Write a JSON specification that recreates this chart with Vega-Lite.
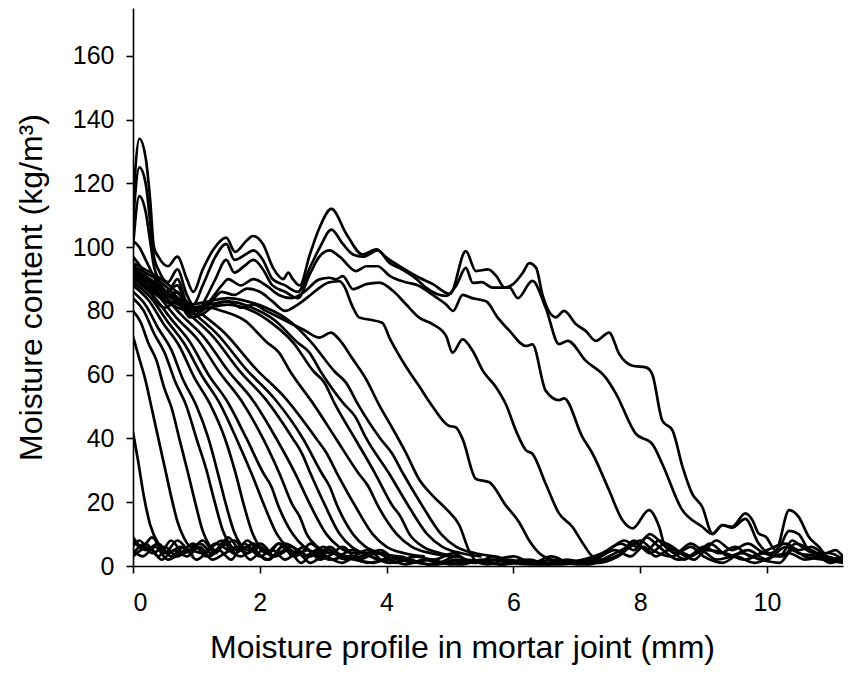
{
"$schema": "https://vega.github.io/schema/vega-lite/v6.json",
"width": 710, "height": 558,
"autosize": {"type": "none"},
"padding": {"left": 133, "top": 8, "right": 9, "bottom": 113},
"background": "white",
"config": {"view": {"stroke": null}, "axis": {"domainColor": "black", "tickColor": "black", "labelColor": "black", "titleColor": "black", "labelFont": "Liberation Sans", "titleFont": "Liberation Sans", "labelFontSize": 25, "titleFontSize": 32, "titleFontWeight": "normal", "domainWidth": 1.6, "tickWidth": 1.6, "tickSize": 7, "grid": false}},
"datasets": {
"curves": [
{"s":"a","x":0,"y":113},{"s":"a","x":0.1,"y":134},{"s":"a","x":0.2,"y":128},{"s":"a","x":0.27,"y":115},{"s":"a","x":0.33,"y":100},{"s":"a","x":0.4,"y":97},{"s":"a","x":0.55,"y":94},{"s":"a","x":0.7,"y":97},{"s":"a","x":0.85,"y":90},{"s":"a","x":0.95,"y":86},{"s":"a","x":1.1,"y":93},{"s":"a","x":1.26,"y":99},{"s":"a","x":1.47,"y":103},{"s":"a","x":1.61,"y":98.5},{"s":"a","x":1.79,"y":102},{"s":"a","x":1.89,"y":103.5},{"s":"a","x":2.05,"y":101},{"s":"a","x":2.21,"y":93.5},{"s":"a","x":2.37,"y":90},{"s":"a","x":2.45,"y":92},{"s":"a","x":2.52,"y":90},{"s":"a","x":2.63,"y":88},{"s":"a","x":2.79,"y":97.7},{"s":"a","x":2.94,"y":106},{"s":"a","x":3.13,"y":112},{"s":"a","x":3.37,"y":104},{"s":"a","x":3.62,"y":97.7},{"s":"a","x":3.84,"y":99.3},{"s":"a","x":4.0,"y":96.7},{"s":"a","x":4.25,"y":93.5},{"s":"a","x":4.52,"y":90.4},{"s":"a","x":4.73,"y":88.4},{"s":"a","x":5.0,"y":85.3},{"s":"a","x":5.25,"y":98.75},{"s":"a","x":5.41,"y":92.5},{"s":"a","x":5.6,"y":93},{"s":"a","x":5.73,"y":91},{"s":"a","x":5.86,"y":87.3},{"s":"a","x":5.99,"y":88.3},{"s":"a","x":6.15,"y":92},{"s":"a","x":6.25,"y":95},{"s":"a","x":6.36,"y":93.5},{"s":"a","x":6.46,"y":85},{"s":"a","x":6.67,"y":78},{"s":"a","x":6.8,"y":80},{"s":"a","x":6.99,"y":75.8},{"s":"a","x":7.14,"y":73.75},{"s":"a","x":7.3,"y":70.6},{"s":"a","x":7.51,"y":73.2},{"s":"a","x":7.67,"y":66.5},{"s":"a","x":7.88,"y":62.8},{"s":"a","x":8.09,"y":62.3},{"s":"a","x":8.19,"y":60.2},{"s":"a","x":8.35,"y":45.6},{"s":"a","x":8.51,"y":42.5},{"s":"a","x":8.67,"y":31},{"s":"a","x":8.82,"y":22.7},{"s":"a","x":8.98,"y":18.5},{"s":"a","x":9.14,"y":10.2},{"s":"a","x":9.3,"y":12.8},{"s":"a","x":9.45,"y":12.3},{"s":"a","x":9.66,"y":16.5},{"s":"a","x":9.77,"y":14.4},{"s":"a","x":9.87,"y":10.2},{"s":"a","x":9.98,"y":9.2},{"s":"a","x":10.14,"y":5},{"s":"a","x":10.35,"y":17.5},{"s":"a","x":10.5,"y":15.4},{"s":"a","x":10.66,"y":9.2},{"s":"a","x":10.82,"y":6},{"s":"a","x":10.92,"y":4},{"s":"a","x":11.08,"y":5},{"s":"a","x":11.2,"y":3},
{"s":"b","x":0,"y":108},{"s":"b","x":0.1,"y":125},{"s":"b","x":0.2,"y":120},{"s":"b","x":0.27,"y":108},{"s":"b","x":0.33,"y":97},{"s":"b","x":0.4,"y":93},{"s":"b","x":0.55,"y":89},{"s":"b","x":0.7,"y":93},{"s":"b","x":0.85,"y":85},{"s":"b","x":0.95,"y":82},{"s":"b","x":1.1,"y":88},{"s":"b","x":1.3,"y":97},{"s":"b","x":1.47,"y":101},{"s":"b","x":1.6,"y":96},{"s":"b","x":1.8,"y":98},{"s":"b","x":1.9,"y":99},{"s":"b","x":2.05,"y":96},{"s":"b","x":2.2,"y":90},{"s":"b","x":2.4,"y":88},{"s":"b","x":2.6,"y":86},{"s":"b","x":2.8,"y":94},{"s":"b","x":2.95,"y":100},{"s":"b","x":3.13,"y":105.5},{"s":"b","x":3.31,"y":101},{"s":"b","x":3.47,"y":97.7},{"s":"b","x":3.63,"y":97},{"s":"b","x":3.86,"y":99},{"s":"b","x":4.05,"y":95},{"s":"b","x":4.2,"y":93.5},{"s":"b","x":4.47,"y":90},{"s":"b","x":4.62,"y":87.3},{"s":"b","x":4.94,"y":84.7},{"s":"b","x":5.1,"y":88},{"s":"b","x":5.25,"y":93.5},{"s":"b","x":5.36,"y":88.8},{"s":"b","x":5.5,"y":89},{"s":"b","x":5.67,"y":87.3},{"s":"b","x":5.94,"y":87.3},{"s":"b","x":6.07,"y":84},{"s":"b","x":6.3,"y":89.4},{"s":"b","x":6.51,"y":81},{"s":"b","x":6.72,"y":69.6},{"s":"b","x":6.86,"y":70.6},{"s":"b","x":7.14,"y":64.4},{"s":"b","x":7.46,"y":59},{"s":"b","x":7.62,"y":54},{"s":"b","x":7.93,"y":41.5},{"s":"b","x":8.19,"y":38.3},{"s":"b","x":8.35,"y":32},{"s":"b","x":8.65,"y":18},{"s":"b","x":8.98,"y":12.3},{"s":"b","x":9.14,"y":10},{"s":"b","x":9.3,"y":12.8},{"s":"b","x":9.45,"y":12},{"s":"b","x":9.66,"y":14.8},{"s":"b","x":9.87,"y":7},{"s":"b","x":10.05,"y":4},{"s":"b","x":10.2,"y":6},{"s":"b","x":10.35,"y":11},{"s":"b","x":10.5,"y":10},{"s":"b","x":10.66,"y":5},{"s":"b","x":10.9,"y":3},{"s":"b","x":11.2,"y":2},
{"s":"c","x":0,"y":100},{"s":"c","x":0.1,"y":116},{"s":"c","x":0.2,"y":111},{"s":"c","x":0.27,"y":102},{"s":"c","x":0.33,"y":94},{"s":"c","x":0.4,"y":90},{"s":"c","x":0.55,"y":86},{"s":"c","x":0.7,"y":90},{"s":"c","x":0.85,"y":82},{"s":"c","x":1.0,"y":79},{"s":"c","x":1.15,"y":84},{"s":"c","x":1.3,"y":90},{"s":"c","x":1.47,"y":96},{"s":"c","x":1.6,"y":92},{"s":"c","x":1.75,"y":94},{"s":"c","x":1.9,"y":96},{"s":"c","x":2.05,"y":93},{"s":"c","x":2.2,"y":88},{"s":"c","x":2.4,"y":86},{"s":"c","x":2.6,"y":84},{"s":"c","x":2.8,"y":92},{"s":"c","x":2.94,"y":97},{"s":"c","x":3.1,"y":99},{"s":"c","x":3.26,"y":97},{"s":"c","x":3.52,"y":92.5},{"s":"c","x":3.68,"y":94},{"s":"c","x":3.86,"y":94},{"s":"c","x":4.05,"y":91},{"s":"c","x":4.3,"y":89},{"s":"c","x":4.5,"y":88},{"s":"c","x":4.73,"y":85},{"s":"c","x":4.94,"y":82},{"s":"c","x":5.05,"y":80},{"s":"c","x":5.2,"y":85},{"s":"c","x":5.35,"y":84},{"s":"c","x":5.57,"y":83},{"s":"c","x":5.75,"y":78},{"s":"c","x":5.94,"y":73.75},{"s":"c","x":6.2,"y":69},{"s":"c","x":6.3,"y":69.5},{"s":"c","x":6.51,"y":55},{"s":"c","x":6.72,"y":52},{"s":"c","x":6.8,"y":52.6},{"s":"c","x":7.09,"y":40.4},{"s":"c","x":7.25,"y":35.2},{"s":"c","x":7.51,"y":23.75},{"s":"c","x":7.72,"y":14.4},{"s":"c","x":7.88,"y":11.8},{"s":"c","x":8.14,"y":17.5},{"s":"c","x":8.3,"y":12.3},{"s":"c","x":8.4,"y":6},{"s":"c","x":8.56,"y":5},{"s":"c","x":8.8,"y":3},
{"s":"d","x":0,"y":102},{"s":"d","x":0.1,"y":100},{"s":"d","x":0.2,"y":96},{"s":"d","x":0.35,"y":90},{"s":"d","x":0.5,"y":86},{"s":"d","x":0.7,"y":88},{"s":"d","x":0.85,"y":81},{"s":"d","x":1.0,"y":80},{"s":"d","x":1.2,"y":83},{"s":"d","x":1.4,"y":88},{"s":"d","x":1.5,"y":90},{"s":"d","x":1.7,"y":88},{"s":"d","x":1.9,"y":90},{"s":"d","x":2.1,"y":88},{"s":"d","x":2.3,"y":85},{"s":"d","x":2.5,"y":84},{"s":"d","x":2.7,"y":86},{"s":"d","x":2.94,"y":89.9},{"s":"d","x":3.1,"y":90.4},{"s":"d","x":3.2,"y":89.9},{"s":"d","x":3.31,"y":90.9},{"s":"d","x":3.47,"y":86.8},{"s":"d","x":3.68,"y":88.4},{"s":"d","x":3.89,"y":88.9},{"s":"d","x":4.1,"y":86.3},{"s":"d","x":4.31,"y":82},{"s":"d","x":4.52,"y":77.8},{"s":"d","x":4.73,"y":75.8},{"s":"d","x":4.94,"y":72.1},{"s":"d","x":5.04,"y":66.9},{"s":"d","x":5.2,"y":71.1},{"s":"d","x":5.36,"y":67.4},{"s":"d","x":5.52,"y":61.2},{"s":"d","x":5.73,"y":56},{"s":"d","x":5.88,"y":50.8},{"s":"d","x":6.05,"y":42},{"s":"d","x":6.2,"y":36.25},{"s":"d","x":6.3,"y":35.2},{"s":"d","x":6.51,"y":25.8},{"s":"d","x":6.72,"y":16.5},{"s":"d","x":6.93,"y":12.3},{"s":"d","x":7.1,"y":7},{"s":"d","x":7.25,"y":3},{"s":"d","x":7.4,"y":2},
{"s":"e","x":0,"y":97},{"s":"e","x":0.15,"y":93},{"s":"e","x":0.3,"y":88},{"s":"e","x":0.5,"y":84},{"s":"e","x":0.7,"y":86},{"s":"e","x":0.85,"y":80},{"s":"e","x":1.0,"y":79},{"s":"e","x":1.2,"y":82},{"s":"e","x":1.4,"y":86},{"s":"e","x":1.6,"y":85},{"s":"e","x":1.8,"y":87},{"s":"e","x":2.0,"y":86},{"s":"e","x":2.2,"y":83},{"s":"e","x":2.4,"y":80},{"s":"e","x":2.6,"y":82},{"s":"e","x":2.8,"y":85},{"s":"e","x":2.94,"y":87.2},{"s":"e","x":3.1,"y":89},{"s":"e","x":3.26,"y":89.3},{"s":"e","x":3.33,"y":87.8},{"s":"e","x":3.46,"y":81.5},{"s":"e","x":3.57,"y":77.9},{"s":"e","x":3.72,"y":77.3},{"s":"e","x":3.93,"y":76.3},{"s":"e","x":4.06,"y":71},{"s":"e","x":4.3,"y":62.7},{"s":"e","x":4.51,"y":56.5},{"s":"e","x":4.72,"y":50.2},{"s":"e","x":4.98,"y":44},{"s":"e","x":5.09,"y":43.5},{"s":"e","x":5.2,"y":39.8},{"s":"e","x":5.41,"y":27.3},{"s":"e","x":5.62,"y":26.25},{"s":"e","x":5.88,"y":19},{"s":"e","x":6.09,"y":13.75},{"s":"e","x":6.25,"y":8},{"s":"e","x":6.41,"y":4},{"s":"e","x":6.6,"y":2},
{"s":"f","x":0,"y":95},{"s":"f","x":0.15,"y":90},{"s":"f","x":0.3,"y":85},{"s":"f","x":0.5,"y":81},{"s":"f","x":0.7,"y":83},{"s":"f","x":0.9,"y":78},{"s":"f","x":1.1,"y":79},{"s":"f","x":1.3,"y":82},{"s":"f","x":1.5,"y":83},{"s":"f","x":1.7,"y":81},{"s":"f","x":1.9,"y":82},{"s":"f","x":2.1,"y":80},{"s":"f","x":2.3,"y":78},{"s":"f","x":2.5,"y":76},{"s":"f","x":2.7,"y":74},{"s":"f","x":2.94,"y":71.6},{"s":"f","x":3.12,"y":73.2},{"s":"f","x":3.25,"y":71.1},{"s":"f","x":3.47,"y":64.8},{"s":"f","x":3.68,"y":58.5},{"s":"f","x":3.89,"y":50.2},{"s":"f","x":4.07,"y":44},{"s":"f","x":4.3,"y":35.7},{"s":"f","x":4.51,"y":27.3},{"s":"f","x":4.73,"y":22},{"s":"f","x":4.94,"y":17.9},{"s":"f","x":5.15,"y":12.7},{"s":"f","x":5.31,"y":4.4},{"s":"f","x":5.42,"y":1.5},{"s":"f","x":5.6,"y":1},
{"s":"E1","x":0,"y":42},{"s":"E1","x":0.08,"y":33},{"s":"E1","x":0.17,"y":22},{"s":"E1","x":0.27,"y":13},{"s":"E1","x":0.4,"y":7},{"s":"E1","x":0.55,"y":4},{"s":"E1","x":0.75,"y":6},{"s":"E1","x":0.95,"y":3},
{"s":"E2","x":0,"y":72},{"s":"E2","x":0.1,"y":65},{"s":"E2","x":0.2,"y":58},{"s":"E2","x":0.3,"y":49},{"s":"E2","x":0.4,"y":40},{"s":"E2","x":0.5,"y":31},{"s":"E2","x":0.6,"y":22},{"s":"E2","x":0.7,"y":14},{"s":"E2","x":0.8,"y":9},{"s":"E2","x":0.92,"y":6},{"s":"E2","x":1.05,"y":7},{"s":"E2","x":1.25,"y":3},
{"s":"E3","x":0,"y":80},{"s":"E3","x":0.12,"y":76.5},{"s":"E3","x":0.24,"y":70},{"s":"E3","x":0.37,"y":64.5},{"s":"E3","x":0.49,"y":56},{"s":"E3","x":0.61,"y":49.5},{"s":"E3","x":0.73,"y":40},{"s":"E3","x":0.87,"y":29},{"s":"E3","x":0.98,"y":20},{"s":"E3","x":1.1,"y":11},{"s":"E3","x":1.19,"y":7},{"s":"E3","x":1.3,"y":5},{"s":"E3","x":1.45,"y":8},{"s":"E3","x":1.6,"y":4},
{"s":"E4","x":0,"y":84},{"s":"E4","x":0.17,"y":80},{"s":"E4","x":0.33,"y":73},{"s":"E4","x":0.5,"y":66.8},{"s":"E4","x":0.67,"y":57.6},{"s":"E4","x":0.84,"y":50.3},{"s":"E4","x":1.0,"y":40},{"s":"E4","x":1.16,"y":30},{"s":"E4","x":1.29,"y":20},{"s":"E4","x":1.42,"y":11},{"s":"E4","x":1.52,"y":7},{"s":"E4","x":1.65,"y":5},{"s":"E4","x":1.8,"y":8},{"s":"E4","x":2.0,"y":3},
{"s":"E5","x":0,"y":86},{"s":"E5","x":0.2,"y":81.8},{"s":"E5","x":0.4,"y":74.5},{"s":"E5","x":0.6,"y":68},{"s":"E5","x":0.79,"y":58.4},{"s":"E5","x":0.99,"y":50.7},{"s":"E5","x":1.19,"y":40},{"s":"E5","x":1.34,"y":29},{"s":"E5","x":1.47,"y":19},{"s":"E5","x":1.59,"y":11},{"s":"E5","x":1.69,"y":7},{"s":"E5","x":1.82,"y":5},{"s":"E5","x":2.0,"y":7},{"s":"E5","x":2.2,"y":3},
{"s":"E6","x":0,"y":88},{"s":"E6","x":0.24,"y":83.5},{"s":"E6","x":0.48,"y":76},{"s":"E6","x":0.73,"y":69},{"s":"E6","x":0.97,"y":59},{"s":"E6","x":1.21,"y":51},{"s":"E6","x":1.45,"y":40},{"s":"E6","x":1.62,"y":29},{"s":"E6","x":1.75,"y":19},{"s":"E6","x":1.89,"y":10},{"s":"E6","x":2.0,"y":6},{"s":"E6","x":2.14,"y":4},{"s":"E6","x":2.3,"y":7},{"s":"E6","x":2.5,"y":3},
{"s":"E7","x":0,"y":89},{"s":"E7","x":0.27,"y":84.4},{"s":"E7","x":0.54,"y":76.8},{"s":"E7","x":0.81,"y":69.7},{"s":"E7","x":1.09,"y":59.6},{"s":"E7","x":1.36,"y":51.3},{"s":"E7","x":1.63,"y":40},{"s":"E7","x":1.87,"y":29},{"s":"E7","x":2.07,"y":19},{"s":"E7","x":2.27,"y":10},{"s":"E7","x":2.43,"y":6},{"s":"E7","x":2.63,"y":4},{"s":"E7","x":2.8,"y":7},{"s":"E7","x":3.0,"y":3},
{"s":"E8","x":0,"y":90},{"s":"E8","x":0.3,"y":85.2},{"s":"E8","x":0.6,"y":77.5},{"s":"E8","x":0.9,"y":70.2},{"s":"E8","x":1.19,"y":60},{"s":"E8","x":1.49,"y":51.5},{"s":"E8","x":1.79,"y":40},{"s":"E8","x":2.06,"y":29},{"s":"E8","x":2.18,"y":25},{"s":"E8","x":2.29,"y":19},{"s":"E8","x":2.52,"y":10},{"s":"E8","x":2.7,"y":6},{"s":"E8","x":2.93,"y":4},{"s":"E8","x":3.1,"y":6},{"s":"E8","x":3.3,"y":2},
{"s":"E9","x":0,"y":91},{"s":"E9","x":0.34,"y":86},{"s":"E9","x":0.68,"y":78},{"s":"E9","x":1.03,"y":70.8},{"s":"E9","x":1.37,"y":60.6},{"s":"E9","x":1.71,"y":51.8},{"s":"E9","x":2.05,"y":40},{"s":"E9","x":2.31,"y":29},{"s":"E9","x":2.52,"y":19},{"s":"E9","x":2.63,"y":15.5},{"s":"E9","x":2.74,"y":10},{"s":"E9","x":2.91,"y":6},{"s":"E9","x":3.13,"y":4},{"s":"E9","x":3.3,"y":6},{"s":"E9","x":3.5,"y":2},
{"s":"E10","x":0,"y":92},{"s":"E10","x":0.38,"y":87},{"s":"E10","x":0.75,"y":79},{"s":"E10","x":1.13,"y":71.5},{"s":"E10","x":1.51,"y":61},{"s":"E10","x":1.89,"y":52},{"s":"E10","x":2.26,"y":40},{"s":"E10","x":2.56,"y":29},{"s":"E10","x":2.8,"y":19},{"s":"E10","x":3.05,"y":10},{"s":"E10","x":3.25,"y":6},{"s":"E10","x":3.5,"y":4},{"s":"E10","x":3.7,"y":5},{"s":"E10","x":3.9,"y":2},
{"s":"E11","x":0,"y":93},{"s":"E11","x":0.42,"y":87.9},{"s":"E11","x":0.84,"y":79.8},{"s":"E11","x":1.26,"y":72},{"s":"E11","x":1.68,"y":61.2},{"s":"E11","x":2.1,"y":52.1},{"s":"E11","x":2.52,"y":40},{"s":"E11","x":2.66,"y":35.5},{"s":"E11","x":2.8,"y":29},{"s":"E11","x":3.03,"y":19},{"s":"E11","x":3.26,"y":10},{"s":"E11","x":3.45,"y":6},{"s":"E11","x":3.68,"y":4},{"s":"E11","x":3.9,"y":5},{"s":"E11","x":4.1,"y":2},
{"s":"E12","x":0,"y":94},{"s":"E12","x":0.45,"y":88.8},{"s":"E12","x":0.89,"y":80.5},{"s":"E12","x":1.34,"y":72.5},{"s":"E12","x":1.79,"y":61.6},{"s":"E12","x":2.24,"y":52.3},{"s":"E12","x":2.68,"y":40},{"s":"E12","x":2.98,"y":29},{"s":"E12","x":3.1,"y":25},{"s":"E12","x":3.22,"y":19},{"s":"E12","x":3.47,"y":10},{"s":"E12","x":3.67,"y":6},{"s":"E12","x":3.92,"y":4},{"s":"E12","x":4.2,"y":3},
{"s":"E13","x":0,"y":95},{"s":"E13","x":0.48,"y":89.5},{"s":"E13","x":0.96,"y":81},{"s":"E13","x":1.45,"y":73},{"s":"E13","x":1.93,"y":62},{"s":"E13","x":2.41,"y":52.5},{"s":"E13","x":2.89,"y":40},{"s":"E13","x":3.05,"y":35.5},{"s":"E13","x":3.22,"y":29},{"s":"E13","x":3.5,"y":19},{"s":"E13","x":3.78,"y":10},{"s":"E13","x":4.0,"y":6},{"s":"E13","x":4.28,"y":4},{"s":"E13","x":4.6,"y":3},
{"s":"E14","x":0,"y":92},{"s":"E14","x":0.3,"y":87},{"s":"E14","x":0.6,"y":83},{"s":"E14","x":0.9,"y":81},{"s":"E14","x":1.2,"y":81},{"s":"E14","x":1.4,"y":80},{"s":"E14","x":1.76,"y":77},{"s":"E14","x":2.12,"y":70},{"s":"E14","x":2.3,"y":67},{"s":"E14","x":2.48,"y":61},{"s":"E14","x":2.84,"y":51},{"s":"E14","x":3.2,"y":40},{"s":"E14","x":3.56,"y":29},{"s":"E14","x":3.71,"y":25},{"s":"E14","x":3.86,"y":19},{"s":"E14","x":4.16,"y":10},{"s":"E14","x":4.4,"y":6},{"s":"E14","x":4.7,"y":4},{"s":"E14","x":5.0,"y":3},
{"s":"E15","x":0,"y":91},{"s":"E15","x":0.3,"y":86},{"s":"E15","x":0.6,"y":82},{"s":"E15","x":0.9,"y":80},{"s":"E15","x":1.2,"y":81},{"s":"E15","x":1.5,"y":82},{"s":"E15","x":1.88,"y":80},{"s":"E15","x":2.2,"y":76},{"s":"E15","x":2.53,"y":70},{"s":"E15","x":2.85,"y":61},{"s":"E15","x":3.02,"y":57.5},{"s":"E15","x":3.18,"y":51},{"s":"E15","x":3.5,"y":40},{"s":"E15","x":3.82,"y":29},{"s":"E15","x":4.09,"y":19},{"s":"E15","x":4.22,"y":15.5},{"s":"E15","x":4.36,"y":10},{"s":"E15","x":4.58,"y":6},{"s":"E15","x":4.85,"y":4},{"s":"E15","x":5.1,"y":3},
{"s":"E16","x":0,"y":93},{"s":"E16","x":0.3,"y":88},{"s":"E16","x":0.6,"y":84},{"s":"E16","x":0.9,"y":81},{"s":"E16","x":1.2,"y":82},{"s":"E16","x":1.5,"y":83},{"s":"E16","x":1.88,"y":81},{"s":"E16","x":2.24,"y":77},{"s":"E16","x":2.6,"y":70},{"s":"E16","x":2.78,"y":67},{"s":"E16","x":2.96,"y":61},{"s":"E16","x":3.32,"y":51},{"s":"E16","x":3.5,"y":47},{"s":"E16","x":3.68,"y":40},{"s":"E16","x":4.04,"y":29},{"s":"E16","x":4.34,"y":19},{"s":"E16","x":4.64,"y":10},{"s":"E16","x":4.88,"y":6},{"s":"E16","x":5.18,"y":4},{"s":"E16","x":5.5,"y":3},
{"s":"E17","x":0,"y":94},{"s":"E17","x":0.3,"y":89},{"s":"E17","x":0.6,"y":85},{"s":"E17","x":0.9,"y":82},{"s":"E17","x":1.2,"y":83},{"s":"E17","x":1.5,"y":84},{"s":"E17","x":1.8,"y":83},{"s":"E17","x":2.1,"y":81},{"s":"E17","x":2.46,"y":77},{"s":"E17","x":2.82,"y":70},{"s":"E17","x":3.18,"y":61},{"s":"E17","x":3.36,"y":57.5},{"s":"E17","x":3.54,"y":51},{"s":"E17","x":3.9,"y":40},{"s":"E17","x":4.08,"y":35.5},{"s":"E17","x":4.26,"y":29},{"s":"E17","x":4.56,"y":19},{"s":"E17","x":4.86,"y":10},{"s":"E17","x":5.1,"y":6},{"s":"E17","x":5.4,"y":4},{"s":"E17","x":5.7,"y":3},
{"s":"N1","x":0,"y":8},{"s":"N1","x":0.2,"y":5},{"s":"N1","x":0.4,"y":7},{"s":"N1","x":0.6,"y":3},{"s":"N1","x":0.8,"y":6},{"s":"N1","x":1.0,"y":2},{"s":"N1","x":1.2,"y":5},{"s":"N1","x":1.4,"y":8},{"s":"N1","x":1.6,"y":4},{"s":"N1","x":1.8,"y":6},{"s":"N1","x":2.0,"y":3},{"s":"N1","x":2.2,"y":5},{"s":"N1","x":2.4,"y":2},{"s":"N1","x":2.6,"y":4},{"s":"N1","x":2.8,"y":1},{"s":"N1","x":3.0,"y":3},{"s":"N1","x":3.3,"y":1},{"s":"N1","x":3.6,"y":4},{"s":"N1","x":3.9,"y":2},{"s":"N1","x":4.2,"y":3},{"s":"N1","x":4.5,"y":1},{"s":"N1","x":4.8,"y":0.5},{"s":"N1","x":5.1,"y":2},{"s":"N1","x":5.4,"y":1},{"s":"N1","x":5.7,"y":3},{"s":"N1","x":6.0,"y":1},{"s":"N1","x":6.3,"y":0.5},{"s":"N1","x":6.6,"y":2},{"s":"N1","x":6.9,"y":1},{"s":"N1","x":7.2,"y":0.5},{"s":"N1","x":7.5,"y":3},{"s":"N1","x":7.8,"y":6},{"s":"N1","x":8.0,"y":8},{"s":"N1","x":8.2,"y":5},{"s":"N1","x":8.5,"y":3},{"s":"N1","x":8.8,"y":6},{"s":"N1","x":9.0,"y":3},{"s":"N1","x":9.3,"y":1},{"s":"N1","x":9.6,"y":4},{"s":"N1","x":9.9,"y":2},{"s":"N1","x":10.2,"y":1},{"s":"N1","x":10.4,"y":5},{"s":"N1","x":10.6,"y":3},{"s":"N1","x":10.9,"y":2},{"s":"N1","x":11.2,"y":1},
{"s":"N2","x":0,"y":5},{"s":"N2","x":0.15,"y":3},{"s":"N2","x":0.35,"y":6},{"s":"N2","x":0.55,"y":2},{"s":"N2","x":0.75,"y":4},{"s":"N2","x":0.95,"y":7},{"s":"N2","x":1.15,"y":3},{"s":"N2","x":1.35,"y":5},{"s":"N2","x":1.55,"y":2},{"s":"N2","x":1.75,"y":7},{"s":"N2","x":1.95,"y":4},{"s":"N2","x":2.15,"y":2},{"s":"N2","x":2.35,"y":6},{"s":"N2","x":2.55,"y":3},{"s":"N2","x":2.75,"y":5},{"s":"N2","x":2.95,"y":2},{"s":"N2","x":3.2,"y":4},{"s":"N2","x":3.5,"y":2},{"s":"N2","x":3.8,"y":1},{"s":"N2","x":4.1,"y":3},{"s":"N2","x":4.4,"y":1},{"s":"N2","x":4.7,"y":2},{"s":"N2","x":5.0,"y":0.5},{"s":"N2","x":5.3,"y":1.5},{"s":"N2","x":5.6,"y":0.5},{"s":"N2","x":5.9,"y":2},{"s":"N2","x":6.2,"y":1},{"s":"N2","x":6.5,"y":0.5},{"s":"N2","x":6.8,"y":1},{"s":"N2","x":7.1,"y":2},{"s":"N2","x":7.4,"y":4},{"s":"N2","x":7.7,"y":7},{"s":"N2","x":7.9,"y":5},{"s":"N2","x":8.1,"y":9},{"s":"N2","x":8.3,"y":6},{"s":"N2","x":8.6,"y":2},{"s":"N2","x":8.9,"y":4},{"s":"N2","x":9.1,"y":7},{"s":"N2","x":9.4,"y":3},{"s":"N2","x":9.7,"y":5},{"s":"N2","x":10.0,"y":2},{"s":"N2","x":10.3,"y":6},{"s":"N2","x":10.5,"y":4},{"s":"N2","x":10.8,"y":3},{"s":"N2","x":11.0,"y":1},{"s":"N2","x":11.2,"y":2},
{"s":"N3","x":0,"y":3},{"s":"N3","x":0.25,"y":6},{"s":"N3","x":0.45,"y":2},{"s":"N3","x":0.65,"y":5},{"s":"N3","x":0.85,"y":3},{"s":"N3","x":1.05,"y":6},{"s":"N3","x":1.25,"y":2},{"s":"N3","x":1.45,"y":4},{"s":"N3","x":1.65,"y":6},{"s":"N3","x":1.85,"y":2},{"s":"N3","x":2.05,"y":5},{"s":"N3","x":2.25,"y":3},{"s":"N3","x":2.45,"y":5},{"s":"N3","x":2.65,"y":1},{"s":"N3","x":2.85,"y":4},{"s":"N3","x":3.1,"y":2},{"s":"N3","x":3.4,"y":3},{"s":"N3","x":3.7,"y":1},{"s":"N3","x":4.0,"y":2},{"s":"N3","x":4.3,"y":0.5},{"s":"N3","x":4.6,"y":2},{"s":"N3","x":4.9,"y":1},{"s":"N3","x":5.2,"y":0.5},{"s":"N3","x":5.5,"y":2},{"s":"N3","x":5.8,"y":0.5},{"s":"N3","x":6.1,"y":1},{"s":"N3","x":6.4,"y":0.5},{"s":"N3","x":6.7,"y":1.5},{"s":"N3","x":7.0,"y":0.5},{"s":"N3","x":7.3,"y":2},{"s":"N3","x":7.6,"y":5},{"s":"N3","x":7.85,"y":3},{"s":"N3","x":8.05,"y":6},{"s":"N3","x":8.25,"y":3},{"s":"N3","x":8.45,"y":5},{"s":"N3","x":8.7,"y":2},{"s":"N3","x":8.95,"y":5},{"s":"N3","x":9.2,"y":2},{"s":"N3","x":9.5,"y":3},{"s":"N3","x":9.8,"y":1},{"s":"N3","x":10.1,"y":3},{"s":"N3","x":10.35,"y":4},{"s":"N3","x":10.6,"y":2},{"s":"N3","x":10.9,"y":3},{"s":"N3","x":11.2,"y":1},
{"s":"N4","x":0,"y":6},{"s":"N4","x":0.1,"y":8},{"s":"N4","x":0.3,"y":4},{"s":"N4","x":0.5,"y":6},{"s":"N4","x":0.7,"y":3},{"s":"N4","x":0.9,"y":5},{"s":"N4","x":1.1,"y":4},{"s":"N4","x":1.3,"y":7},{"s":"N4","x":1.5,"y":5},{"s":"N4","x":1.7,"y":3},{"s":"N4","x":1.9,"y":5},{"s":"N4","x":2.1,"y":2},{"s":"N4","x":2.3,"y":4},{"s":"N4","x":2.5,"y":6},{"s":"N4","x":2.7,"y":3},{"s":"N4","x":2.9,"y":5},{"s":"N4","x":3.15,"y":2},{"s":"N4","x":3.45,"y":5},{"s":"N4","x":3.75,"y":3},{"s":"N4","x":4.05,"y":1},{"s":"N4","x":4.35,"y":2},{"s":"N4","x":4.65,"y":0.5},{"s":"N4","x":4.95,"y":1},{"s":"N4","x":5.25,"y":2},{"s":"N4","x":5.55,"y":1},{"s":"N4","x":5.85,"y":0.5},{"s":"N4","x":6.15,"y":2},{"s":"N4","x":6.45,"y":1},{"s":"N4","x":6.75,"y":0.5},{"s":"N4","x":7.05,"y":1},{"s":"N4","x":7.35,"y":1},{"s":"N4","x":7.65,"y":3},{"s":"N4","x":7.95,"y":7},{"s":"N4","x":8.15,"y":4},{"s":"N4","x":8.4,"y":7},{"s":"N4","x":8.65,"y":4},{"s":"N4","x":8.85,"y":2},{"s":"N4","x":9.05,"y":5},{"s":"N4","x":9.35,"y":4},{"s":"N4","x":9.65,"y":2},{"s":"N4","x":9.95,"y":4},{"s":"N4","x":10.25,"y":3},{"s":"N4","x":10.45,"y":7},{"s":"N4","x":10.7,"y":5},{"s":"N4","x":11.0,"y":2},{"s":"N4","x":11.2,"y":3},
{"s":"N5","x":0,"y":9},{"s":"N5","x":0.15,"y":6},{"s":"N5","x":0.3,"y":9},{"s":"N5","x":0.5,"y":4},{"s":"N5","x":0.7,"y":8},{"s":"N5","x":0.9,"y":5},{"s":"N5","x":1.1,"y":8},{"s":"N5","x":1.3,"y":4},{"s":"N5","x":1.5,"y":9},{"s":"N5","x":1.7,"y":5},{"s":"N5","x":1.9,"y":7},{"s":"N5","x":2.1,"y":4},{"s":"N5","x":2.3,"y":7},{"s":"N5","x":2.5,"y":4},{"s":"N5","x":2.7,"y":6},{"s":"N5","x":2.9,"y":3},{"s":"N5","x":3.1,"y":5},{"s":"N5","x":3.35,"y":2},{"s":"N5","x":3.6,"y":3},{"s":"N5","x":3.9,"y":4},{"s":"N5","x":4.2,"y":2},{"s":"N5","x":4.5,"y":3},{"s":"N5","x":4.8,"y":1},{"s":"N5","x":5.1,"y":3},{"s":"N5","x":5.4,"y":1},{"s":"N5","x":5.7,"y":2},{"s":"N5","x":6.0,"y":3},{"s":"N5","x":6.3,"y":1},{"s":"N5","x":6.6,"y":3},{"s":"N5","x":6.9,"y":1},{"s":"N5","x":7.2,"y":2},{"s":"N5","x":7.5,"y":5},{"s":"N5","x":7.75,"y":8},{"s":"N5","x":7.95,"y":6},{"s":"N5","x":8.15,"y":10},{"s":"N5","x":8.35,"y":7},{"s":"N5","x":8.55,"y":4},{"s":"N5","x":8.8,"y":7},{"s":"N5","x":9.0,"y":5},{"s":"N5","x":9.2,"y":8},{"s":"N5","x":9.45,"y":5},{"s":"N5","x":9.7,"y":7},{"s":"N5","x":9.95,"y":4},{"s":"N5","x":10.2,"y":3},{"s":"N5","x":10.4,"y":8},{"s":"N5","x":10.55,"y":6},{"s":"N5","x":10.75,"y":4},{"s":"N5","x":11.0,"y":4},{"s":"N5","x":11.2,"y":2},
{"s":"N6","x":0,"y":4},{"s":"N6","x":0.2,"y":7},{"s":"N6","x":0.4,"y":3},{"s":"N6","x":0.6,"y":8},{"s":"N6","x":0.8,"y":4},{"s":"N6","x":1.0,"y":6},{"s":"N6","x":1.2,"y":3},{"s":"N6","x":1.4,"y":6},{"s":"N6","x":1.6,"y":8},{"s":"N6","x":1.8,"y":4},{"s":"N6","x":2.0,"y":6},{"s":"N6","x":2.2,"y":3},{"s":"N6","x":2.4,"y":7},{"s":"N6","x":2.6,"y":5},{"s":"N6","x":2.8,"y":3},{"s":"N6","x":3.0,"y":6},{"s":"N6","x":3.25,"y":3},{"s":"N6","x":3.55,"y":2},{"s":"N6","x":3.85,"y":4},{"s":"N6","x":4.15,"y":1},{"s":"N6","x":4.45,"y":3},{"s":"N6","x":4.75,"y":2},{"s":"N6","x":5.05,"y":4},{"s":"N6","x":5.35,"y":1},{"s":"N6","x":5.65,"y":2},{"s":"N6","x":5.95,"y":1},{"s":"N6","x":6.25,"y":2},{"s":"N6","x":6.55,"y":0.5},{"s":"N6","x":6.85,"y":2},{"s":"N6","x":7.15,"y":1},{"s":"N6","x":7.45,"y":2},{"s":"N6","x":7.7,"y":4},{"s":"N6","x":7.9,"y":8},{"s":"N6","x":8.1,"y":5},{"s":"N6","x":8.3,"y":8},{"s":"N6","x":8.55,"y":5},{"s":"N6","x":8.75,"y":3},{"s":"N6","x":9.0,"y":6},{"s":"N6","x":9.25,"y":4},{"s":"N6","x":9.5,"y":6},{"s":"N6","x":9.75,"y":3},{"s":"N6","x":10.0,"y":5},{"s":"N6","x":10.3,"y":7},{"s":"N6","x":10.5,"y":5},{"s":"N6","x":10.7,"y":6},{"s":"N6","x":10.95,"y":3},{"s":"N6","x":11.2,"y":2}
]
},
"layer": [
{"data": {"name": "curves"},
 "mark": {"type": "line", "color": "black", "strokeWidth": 2.7, "interpolate": "monotone", "clip": true},
 "encoding": {
  "x": {"field": "x", "type": "quantitative", "scale": {"domain": [0, 11.2], "nice": false, "zero": false},
        "axis": {"values": [0, 2, 4, 6, 8, 10], "format": "d", "title": "Moisture profile in mortar joint (mm)", "labelPadding": 17, "titlePadding": 17, "titleX": 329}},
  "y": {"field": "y", "type": "quantitative", "scale": {"domain": [0, 175], "nice": false},
        "axis": {"values": [0, 20, 40, 60, 80, 100, 120, 140, 160], "format": "d", "title": "Moisture content (kg/m³)", "labelPadding": 12, "titlePadding": 24}},
  "detail": {"field": "s", "type": "nominal"}
 }},
{"mark": {"type": "rule", "color": "black", "strokeWidth": 3.5, "strokeDash": [3.5, 3]},
 "encoding": {"x": {"datum": 0.12}, "x2": {"datum": 11.2}, "y": {"datum": 97.5}}},
{"mark": {"type": "rule", "color": "#333333", "strokeWidth": 2},
 "encoding": {"y": {"datum": 175}}}
]
}
